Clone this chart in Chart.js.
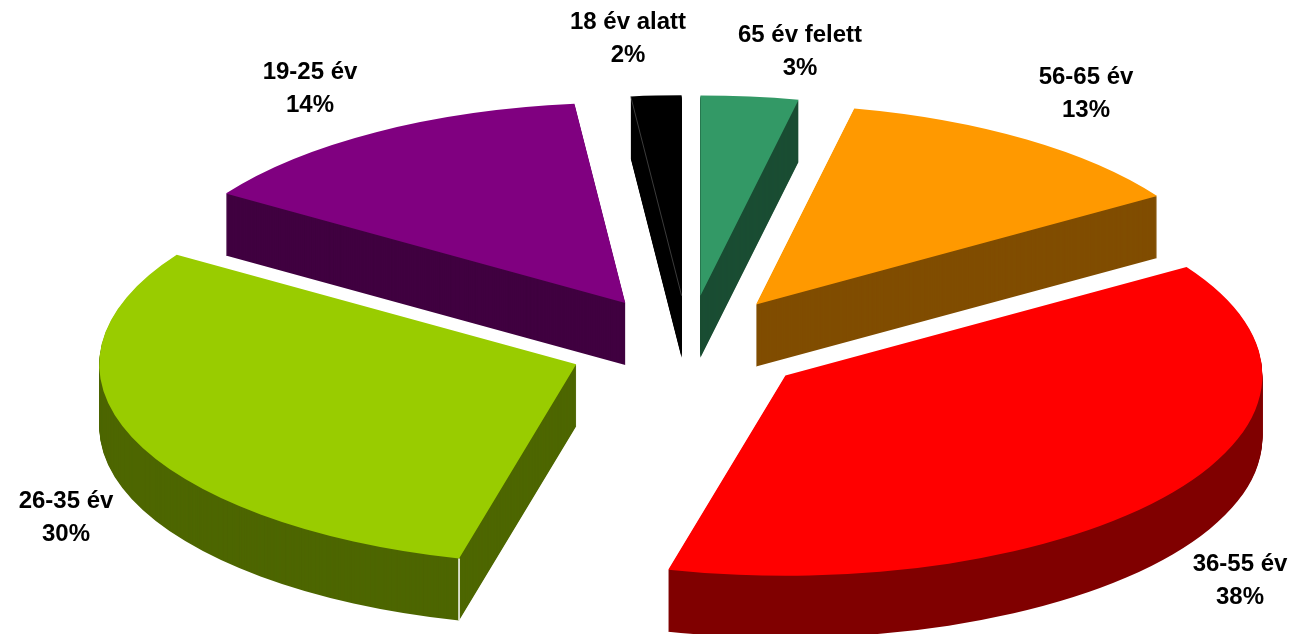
<!DOCTYPE html>
<html>
<head>
<meta charset="utf-8">
<style>html,body{margin:0;padding:0;background:#fff}canvas{display:block}</style>
<script src="https://cdn.jsdelivr.net/npm/chart.js@4"></script>
</head>
<body>
<canvas id="c" width="1294" height="634"></canvas>
<script>
const categories = ['65 év felett','56-65 év','36-55 év','26-35 év','19-25 év','18 év alatt'];
const values = [3.3,12.6,38.05,30.25,14.1,1.7];
const topColors = ['#339966','#FF9900','#FF0000','#99CC00','#800080','#000000'];
const wallColors = ['#1A4D33','#804D00','#800000','#4D6600','#400040','#000000'];
const labelCenters = [[800,35],[1086,77],[1240,564],[66,501],[310,72],[628,22]];

const CX = 688, CY = 346, SQUASH = 0.42, EXPLODE = 120, DEPTH = 62, LINE = 33;

function place(ctx, arc, dy){
  const mid = (arc.startAngle + arc.endAngle) / 2;
  ctx.translate(CX + Math.cos(mid)*EXPLODE, CY + Math.sin(mid)*EXPLODE*SQUASH + dy);
  ctx.scale(1, SQUASH);
  ctx.translate(-arc.x, -arc.y);
}
function screenPoint(arc, angle, r){
  const mid = (arc.startAngle + arc.endAngle) / 2;
  return [CX + Math.cos(mid)*EXPLODE + Math.cos(angle)*r,
          CY + (Math.sin(mid)*EXPLODE + Math.sin(angle)*r)*SQUASH];
}
const pie3d = {
  id: 'pie3d',
  beforeDatasetsDraw(chart){
    const ctx = chart.ctx;
    const arcs = chart.getDatasetMeta(0).data;
    arcs.forEach((arc, i) => {
      const base = arc.options;
      const wall = Object.create(base);
      wall.backgroundColor = wallColors[i];
      arc.options = wall;
      for (let dy = DEPTH; dy >= 1; dy--){
        ctx.save(); place(ctx, arc, dy); arc.draw(ctx); ctx.restore();
      }
      arc.options = base;
      ctx.save(); place(ctx, arc, 0); arc.draw(ctx); ctx.restore();
    });
    // white seam on the front corner of the lime slice
    const lime = arcs[3];
    const a = screenPoint(lime, lime.startAngle, lime.outerRadius);
    ctx.save();
    ctx.strokeStyle = '#fff'; ctx.lineWidth = 1.5;
    ctx.beginPath(); ctx.moveTo(a[0], a[1]); ctx.lineTo(a[0], a[1] + DEPTH); ctx.stroke();
    // faint edge between the top and the wall of the black slice
    const blk = arcs[5];
    const p = screenPoint(blk, blk.startAngle, blk.outerRadius);
    const q = screenPoint(blk, blk.startAngle, 0);
    ctx.strokeStyle = '#555'; ctx.lineWidth = 0.7;
    ctx.beginPath(); ctx.moveTo(p[0], p[1]); ctx.lineTo(q[0], q[1]); ctx.stroke();
    ctx.restore();
    return false;
  },
  afterDraw(chart){
    const ctx = chart.ctx;
    ctx.save();
    ctx.font = 'bold 24px "Liberation Sans", Arial, sans-serif';
    ctx.fillStyle = '#000';
    ctx.textAlign = 'center';
    ctx.textBaseline = 'middle';
    categories.forEach((name, i) => {
      const [x, y] = labelCenters[i];
      ctx.fillText(name, x, y);
      ctx.fillText(Math.round(values[i]) + '%', x, y + LINE);
    });
    ctx.restore();
  }
};
new Chart(document.getElementById('c'), {
  type: 'pie',
  data: { labels: categories, datasets: [{ data: values, backgroundColor: topColors, borderWidth: 0 }] },
  options: {
    responsive: false,
    animation: false,
    radius: 477,
    layout: { padding: 0 },
    plugins: { legend: { display: false }, tooltip: { enabled: false }, title: { display: false } }
  },
  plugins: [pie3d]
});
</script>
</body>
</html>
